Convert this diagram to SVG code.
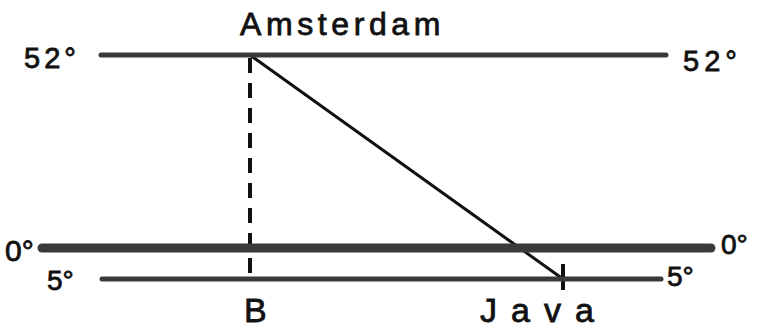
<svg xmlns="http://www.w3.org/2000/svg" width="761" height="330" viewBox="0 0 761 330">
<style>
.lat{stroke:#3a3a3a;stroke-linecap:round;fill:none}
.t{font-family:"Liberation Sans",Arial,sans-serif;fill:#111;stroke:#111;stroke-width:0.8}
</style>
<rect width="761" height="330" fill="#fff"/>
<g id="connectors">
<line id="dash" x1="250" y1="58" x2="250" y2="281" stroke="#111" stroke-width="4" stroke-dasharray="15 10"/>
<line id="diag" x1="250" y1="55" x2="563" y2="279" stroke="#111" stroke-width="3"/>
<line id="tick" x1="563" y1="264" x2="563" y2="290" stroke="#111" stroke-width="4"/>
</g>
<g id="lat52">
<line class="lat" x1="101" y1="55" x2="666" y2="55" stroke-width="5"/>
<text class="t" x="24" y="68" font-size="29" letter-spacing="4">52°</text>
<text class="t" x="683" y="71" font-size="29" letter-spacing="5">52°</text>
</g>
<g id="lat0">
<line class="lat" x1="42" y1="248" x2="711" y2="248" stroke-width="9"/>
<text class="t" x="5" y="261" font-size="30">0°</text>
<text class="t" x="721" y="254" font-size="28">0°</text>
</g>
<g id="lat5">
<line class="lat" x1="102" y1="279" x2="661" y2="279" stroke-width="5"/>
<text class="t" x="47" y="290" font-size="28">5°</text>
<text class="t" x="667" y="286" font-size="28">5°</text>
</g>
<g id="amsterdam"><text class="t" x="240" y="35" font-size="32" letter-spacing="4.6">Amsterdam</text></g>
<g id="b"><text class="t" x="244" y="322" font-size="34">B</text></g>
<g id="java"><text class="t" x="480" y="322" font-size="34" letter-spacing="14">Java</text></g>
</svg>
